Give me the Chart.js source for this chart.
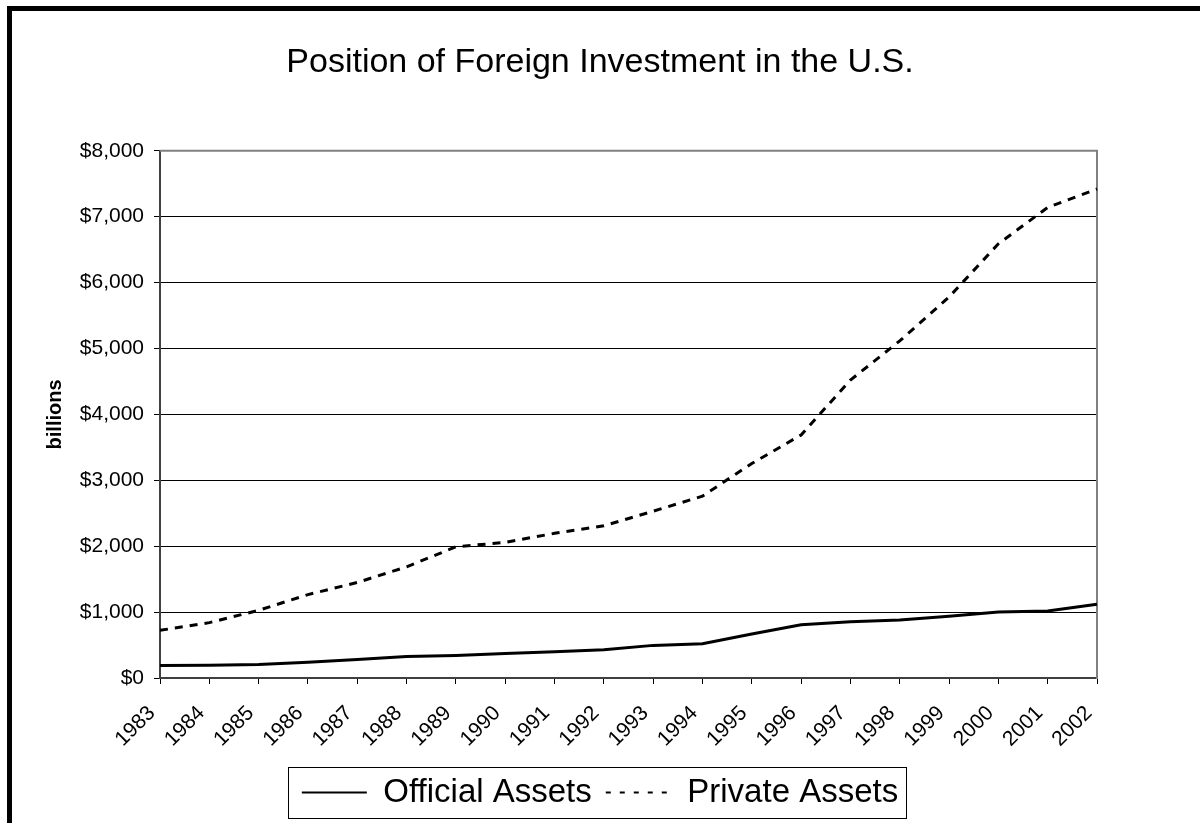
<!DOCTYPE html>
<html>
<head>
<meta charset="utf-8">
<script src="https://cdn.jsdelivr.net/npm/chart.js@4"></script>
<style>
    body { margin: 0; background: #fff; }
    #wrap { position: relative; width: 1200px; height: 823px; overflow: hidden; }
    #frame {
        position: absolute; left: 7px; top: 6px; width: 1400px; height: 1000px;
        border-left: 5px solid #000; border-top: 5px solid #000;
    }
    #chart { position: absolute; left: 0; top: 0; }
</style>
</head>
<body>
<div id="wrap">
    <div id="frame"></div>
    <canvas id="chart" width="1200" height="823"></canvas>
</div>
<script>
const FONT = "'Liberation Sans', Arial, sans-serif";

const years = ["1983", "1984", "1985", "1986", "1987", "1988", "1989", "1990", "1991", "1992",
    "1993", "1994", "1995", "1996", "1997", "1998", "1999", "2000", "2001", "2002"];

// billions of dollars
const officialAssets = [190, 195, 205, 240, 280, 325, 342, 373, 399, 430,
    495, 521, 667, 807, 854, 880, 937, 1000, 1016, 1120];
const privateAssets = [723, 840, 1027, 1266, 1449, 1687, 1991, 2058, 2195, 2310,
    2530, 2760, 3255, 3688, 4521, 5115, 5781, 6589, 7140, 7420];

const yMin = 0;
const yMax = 8000;
const yStep = 1000;

// grey top edge of the plot area
const plotEdge = {
    id: "plotEdge",
    beforeDatasetsDraw(chart) {
        const { ctx, chartArea: a } = chart;
        ctx.save();
        ctx.strokeStyle = "#808080";
        ctx.lineWidth = 2;
        ctx.beginPath();
        ctx.moveTo(a.left, a.top);
        ctx.lineTo(a.right + 1, a.top);
        ctx.stroke();
        ctx.restore();
    }
};

// box round the legend
const legendBox = {
    id: "legendBox",
    afterDraw(chart) {
        const boxes = chart.legend.legendHitBoxes;
        if (!boxes || !boxes.length) return;
        const first = boxes[0];
        const last = boxes[boxes.length - 1];
        const ctx = chart.ctx;
        ctx.save();
        ctx.strokeStyle = "#000";
        ctx.lineWidth = 1;
        const x = Math.round(first.left - 14) + 0.5;
        const y = Math.round(first.top - 9) + 0.5;
        const w = Math.round(last.left + last.width + 8 - (first.left - 14));
        const h = Math.round(first.height + 18);
        ctx.strokeRect(x, y, w, h);
        ctx.restore();
    }
};

new Chart(document.getElementById("chart"), {
    type: "line",
    data: {
        labels: years,
        datasets: [
            {
                label: "Official Assets",
                data: officialAssets,
                borderColor: "#000",
                backgroundColor: "#000",
                borderWidth: 3,
                pointRadius: 0,
                tension: 0
            },
            {
                label: "Private Assets",
                data: privateAssets,
                borderColor: "#000",
                backgroundColor: "#000",
                borderWidth: 3,
                borderDash: [8, 7],
                pointRadius: 0,
                tension: 0
            }
        ]
    },
    options: {
        responsive: false,
        animation: false,
        devicePixelRatio: 1,
        layout: { padding: { left: 10, right: 10, top: 0, bottom: 4 } },
        plugins: {
            title: {
                display: true,
                text: "Position of Foreign Investment in the U.S.",
                color: "#000",
                font: { family: FONT, size: 34, weight: "normal" },
                padding: { top: 42, bottom: 68 }
            },
            legend: {
                position: "bottom",
                labels: {
                    color: "#000",
                    font: { family: FONT, size: 33 },
                    usePointStyle: true,
                    pointStyle: "line",
                    pointStyleWidth: 65,
                    padding: 14,
                    generateLabels(chart) {
                        const items = Chart.defaults.plugins.legend.labels.generateLabels(chart);
                        items.forEach(it => {
                            it.lineWidth = 2;
                            if (it.datasetIndex === 1) it.lineDash = [5, 9];
                        });
                        return items;
                    }
                }
            },
            tooltip: { enabled: false }
        },
        scales: {
            x: {
                offset: false,
                grid: {
                    drawOnChartArea: false,
                    drawTicks: true,
                    tickLength: 6,
                    color: "#000"
                },
                border: { color: "#404040", width: 2 },
                ticks: {
                    color: "#000",
                    font: { family: FONT, size: 21 },
                    maxRotation: 45,
                    minRotation: 45,
                    autoSkip: false,
                    padding: 17,
                    labelOffset: -8
                },
                afterFit(scale) { scale.height = 84; }
            },
            y: {
                min: yMin,
                max: yMax,
                grid: {
                    color: "#000",
                    lineWidth: 1,
                    tickLength: 6
                },
                border: { color: "#404040", width: 2 },
                ticks: {
                    stepSize: yStep,
                    color: "#000",
                    font: { family: FONT, size: 21 },
                    padding: 10,
                    callback: v => "$" + v.toLocaleString("en-US")
                },
                title: {
                    display: true,
                    text: "billions",
                    color: "#000",
                    font: { family: FONT, size: 20, weight: "bold" },
                    padding: { top: 33, bottom: 0 }
                },
                afterFit(scale) { scale.width = 150; }
            },
            // empty right axis: keeps the plot clear of the right side and draws its grey edge
            yRight: {
                position: "right",
                min: yMin,
                max: yMax,
                grid: { drawOnChartArea: false, drawTicks: false },
                border: { color: "#808080", width: 2 },
                ticks: { display: false },
                afterFit(scale) { scale.width = 93; }
            }
        }
    },
    plugins: [plotEdge, legendBox]
});
</script>
</body>
</html>
